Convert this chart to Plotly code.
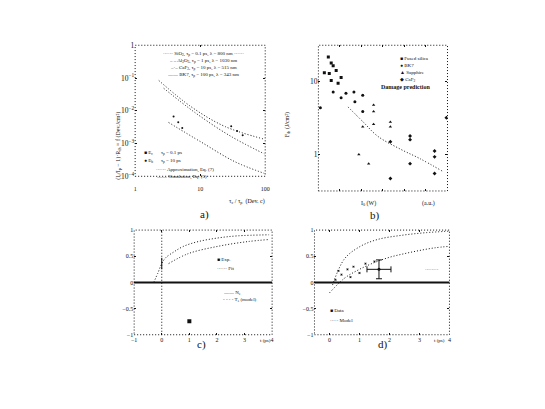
import plotly.graph_objects as go

# ---- panel a: log-log threshold curves ----
a_x1 = [2.31, 7.31, 23.9, 96.6]
a_y1 = [0.0841, 0.01315, 0.00333, 0.00136]
a_x2 = [2.75, 8.39, 29.5, 96.6]
a_y2 = [0.0486, 0.00871, 0.00167, 0.000486]
a_x3 = [3.27, 10.35, 33.9, 96.6]
a_y3 = [0.00439, 0.00111, 0.000281, 0.000123]
a_px = [3.9, 4.6, 5.3, 30.0, 37.0, 45.0]
a_py = [0.0067, 0.0045, 0.0030, 0.0034, 0.0024, 0.0018]

# ---- panel b: damage thresholds vs intensity ----
b_x_fs = [0.92, 1.19, 1.37, 0.55, 1.01, 1.65, 2.11, 1.19, 1.83]
b_y_fs = [21.8, 18.1, 16.5, 13.3, 12.9, 14.2, 11.4, 10.4, 9.5]
b_x_bk = [2.56, 3.30, 4.12, 2.11, 1.37, 3.39, 4.12, 0.18]
b_y_bk = [6.95, 7.2, 6.5, 6.0, 7.2, 5.3, 3.9, 4.4]
b_x_sa = [5.13, 5.13, 4.12, 5.13, 6.69, 6.69, 3.76, 4.67]
b_y_sa = [4.8, 3.9, 2.4, 2.6, 2.8, 2.4, 1.0, 0.75]
b_x_ca = [8.52, 8.52, 6.69, 8.52, 10.8, 10.8, 10.8, 6.69, 11.9]
b_y_ca = [1.8, 1.6, 1.5, 0.75, 1.12, 0.93, 0.55, 0.47, 3.2]
b_fit_x = [2.75, 4.12, 5.5, 7.6, 9.43, 11.54]
b_fit_y = [4.5, 2.84, 1.79, 1.19, 0.88, 0.59]
b_names = ["Fused silica", "BK7", "Sapphire", "CaF<sub>2</sub>"]

# ---- panel c: transient signal ----
c_x1 = [-0.29, -0.14, 0.0, 0.14, 0.43, 0.79, 1.32, 2.04, 2.75, 3.89]
c_y1 = [0.0, 0.18, 0.36, 0.47, 0.58, 0.69, 0.78, 0.85, 0.89, 0.91]
c_x2 = [0.25, 0.96, 2.04, 3.11, 3.89]
c_y2 = [0.36, 0.55, 0.69, 0.78, 0.82]
c_mx = [1.0]
c_my = [-0.74]

# ---- panel d: two rising curves with data ----
d_x1 = [0.1, 0.5, 1.0, 1.6, 2.4, 3.2, 4.0]
d_y1 = [-0.05, 0.45, 0.68, 0.82, 0.9, 0.95, 0.98]
d_x2 = [0.0, 0.5, 1.0, 1.5, 2.0, 2.5, 3.0, 3.5, 4.0]
d_y2 = [-0.2, 0.08, 0.25, 0.38, 0.48, 0.55, 0.61, 0.66, 0.69]
d_px = [0.2, 0.4, 0.6, 0.8, 1.2, 1.5, 0.3, 0.7, 1.0]
d_py = [0.05, 0.15, 0.25, 0.3, 0.36, 0.4, 0.22, 0.1, 0.18]
d_ex = [1.65]
d_ey = [0.25]
d_err = [0.18]

FONT = "Liberation Serif"
ink = "#111"
DOT = "1px,2px"


def px(x):
    return x / 545


def py(y):
    return 1 - y / 409


fig = go.Figure()

line_dot = dict(color=ink, width=1, dash=DOT, shape="spline")
for xs, ys in [(a_x1, a_y1), (a_x2, a_y2), (a_x3, a_y3)]:
    fig.add_trace(go.Scatter(x=xs, y=ys, mode="lines", line=line_dot, xaxis="x", yaxis="y"))
fig.add_trace(go.Scatter(x=a_px, y=a_py, mode="markers", marker=dict(size=2, color=ink),
                         xaxis="x", yaxis="y"))

b_syms = ["square", "circle", "triangle-up", "diamond"]
for xs, ys, sym in zip([b_x_fs, b_x_bk, b_x_sa, b_x_ca], [b_y_fs, b_y_bk, b_y_sa, b_y_ca], b_syms):
    fig.add_trace(go.Scatter(x=xs, y=ys, mode="markers",
                             marker=dict(size=3, color=ink, symbol=sym),
                             xaxis="x2", yaxis="y2"))
fig.add_trace(go.Scatter(x=b_fit_x, y=b_fit_y, mode="lines", line=line_dot,
                         xaxis="x2", yaxis="y2"))

fig.add_trace(go.Scatter(x=c_x1, y=c_y1, mode="lines", line=line_dot, xaxis="x3", yaxis="y3"))
fig.add_trace(go.Scatter(x=c_x2, y=c_y2, mode="lines", line=line_dot, xaxis="x3", yaxis="y3"))
fig.add_trace(go.Scatter(x=c_mx, y=c_my, mode="markers", marker=dict(size=4, color=ink, symbol="square"),
                         xaxis="x3", yaxis="y3"))

fig.add_trace(go.Scatter(x=d_x1, y=d_y1, mode="lines", line=line_dot, xaxis="x4", yaxis="y4"))
fig.add_trace(go.Scatter(x=d_x2, y=d_y2, mode="lines", line=line_dot, xaxis="x4", yaxis="y4"))
fig.add_trace(go.Scatter(x=d_px, y=d_py, mode="markers", marker=dict(size=2, color=ink, symbol="x"),
                         xaxis="x4", yaxis="y4"))
fig.add_trace(go.Scatter(x=d_ex, y=d_ey, mode="markers", marker=dict(size=3, color=ink),
                         error_y=dict(type="data", array=d_err, color=ink, width=3, thickness=1),
                         error_x=dict(type="constant", value=0.4, color=ink, width=3, thickness=1),
                         xaxis="x4", yaxis="y4"))

tick = dict(ticks="inside", ticklen=2, tickcolor=ink, showgrid=False, zeroline=False,
            tickfont=dict(size=6, color=ink, family=FONT), showline=False)

fig.update_layout(
    width=545, height=409, margin=dict(l=0, r=0, t=0, b=0),
    paper_bgcolor="white", plot_bgcolor="white", showlegend=False,
    font=dict(family=FONT, color=ink, size=6),
    xaxis=dict(tick, type="log", range=[0, 2], domain=[px(126), px(258)], anchor="y",
               dtick=1, mirror="ticks", ticklabelstandoff=8),
    yaxis=dict(tick, type="log", range=[-4, 0], domain=[py(168), py(34)], anchor="x",
               dtick=1, exponentformat="power", mirror="ticks"),
    xaxis2=dict(tick, range=[0, 12], domain=[px(312), px(443)], anchor="y2",
                dtick=2, showticklabels=False, mirror="ticks"),
    yaxis2=dict(tick, type="log", range=[-0.5, 1.5], domain=[py(183), py(34)], anchor="x2",
                dtick=1, exponentformat="power", mirror="ticks"),
    xaxis3=dict(tick, range=[-1, 4], domain=[px(125), px(265)], anchor="y3",
                dtick=1, mirror="ticks"),
    yaxis3=dict(tick, range=[-1, 1], domain=[py(330), py(223)], anchor="x3",
                dtick=0.5, mirror="ticks"),
    xaxis4=dict(tick, range=[-0.5, 4], domain=[px(308), px(445)], anchor="y4",
                dtick=1, mirror="ticks"),
    yaxis4=dict(tick, range=[-1, 1], domain=[py(330), py(223)], anchor="x4",
                dtick=0.5, mirror="ticks"),
)

shapes = []
for xr, yr in [("x", "y"), ("x2", "y2"), ("x3", "y3"), ("x4", "y4")]:
    shapes.append(dict(type="rect", xref=xr + " domain", yref=yr + " domain", x0=0, x1=1, y0=0, y1=1,
                       line=dict(color=ink, width=1, dash=DOT)))
# zero lines c, d and marker lines in c
shapes.append(dict(type="line", xref="x3 domain", yref="y3", x0=0, x1=1, y0=0, y1=0,
                   line=dict(color=ink, width=2)))
shapes.append(dict(type="line", xref="x4 domain", yref="y4", x0=0, x1=1, y0=0, y1=0,
                   line=dict(color=ink, width=2)))
shapes.append(dict(type="line", xref="x3", yref="y3 domain", x0=0, x1=0, y0=0, y1=1,
                   line=dict(color=ink, width=1, dash=DOT)))
shapes.append(dict(type="line", xref="x3", yref="y3", x0=0, x1=0, y0=0.25, y1=0.47,
                   line=dict(color=ink, width=1)))
fig.update_layout(shapes=shapes)

ann = []


def text(x, y, s, size=5, **kw):
    ann.append(dict(x=px(x), y=py(y), xref="paper", yref="paper", text=s, showarrow=False,
                    font=dict(size=size, family=FONT, color=ink), **kw))


# panel a
text(195, 38, "······ SiO<sub>2</sub>, τ<sub>p</sub> = 0.1 ps, λ = 800 nm ······")
text(195, 45, "– – Al<sub>2</sub>O<sub>3</sub>, τ<sub>p</sub> = 1 ps, λ = 1030 nm")
text(195, 52, "–·– CaF<sub>2</sub>, τ<sub>p</sub> = 10 ps, λ = 515 nm")
text(195, 59, "—— BK7, τ<sub>p</sub> = 100 ps, λ = 343 nm")
text(133, 144, "■ E<sub>c</sub>", xanchor="left")
text(133, 152, "● E<sub>b</sub>", xanchor="left")
text(150, 144, "τ<sub>p</sub> = 0.1 ps", xanchor="left")
text(150, 152, "τ<sub>p</sub> = 10 ps", xanchor="left")
text(145, 162, "······ Approximation, Eq. (7)", xanchor="left")
text(145, 169, "—— Simulation, Eq. (5)", xanchor="left")
text(240, 194, "τ<sub>c</sub> / τ<sub>p</sub>  (Dev. c)", size=6)
text(104, 100, "(I<sub>c</sub>/I<sub>p</sub> − 1)·R<sub>th</sub> = f (Dev./cm²)", size=6, textangle=-90)
text(196, 207, "a)", size=11)

# panel b legend
for i, (name, mk) in enumerate(zip(b_names, ["■", "●", "▲", "◆"])):
    text(393, 43 + 7 * i, mk + " " + name, xanchor="left")
text(373, 72, "<b>Damage prediction</b>", size=6, xanchor="left")
text(363, 196, "I<sub>0</sub> (W)", size=6)
text(432, 196, "(a.u.)", size=6)
text(280, 100, "F<sub>th</sub> (J/cm²)", size=6, textangle=-90)
text(377, 208, "b)", size=11)

# panel c
text(207, 253, "■ Exp.", xanchor="left")
text(207, 262, "······ Fit", xanchor="left")
text(213, 292, "—— N<sub>e</sub>", xanchor="left")
text(213, 300, "- - - - T<sub>e</sub> (model)", xanchor="left")
text(258, 340, "t (ps)", size=5)
text(193, 349, "c)", size=11)

# panel d
text(418, 263, "········", xanchor="left")
text(322, 310, "■ Data", xanchor="left")
text(322, 320, "····· Model", xanchor="left")
text(442, 340, "t (ps)", size=5)
text(385, 349, "d)", size=11)

fig.update_layout(annotations=ann)
fig.write_html("out.html")
